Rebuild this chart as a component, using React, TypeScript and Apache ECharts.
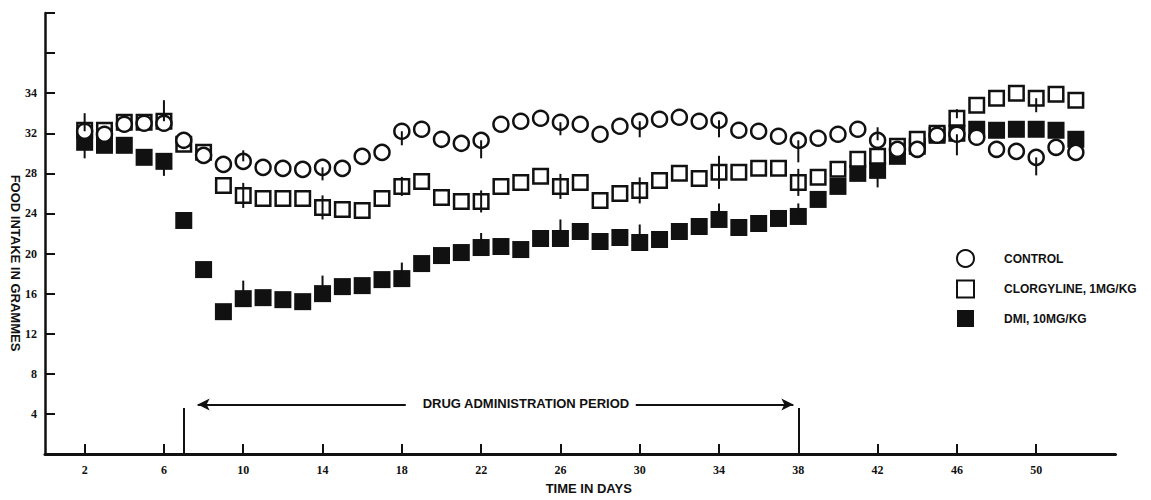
import React, { useEffect, useRef } from 'react';
import * as echarts from 'echarts';

// ---------- data ----------
const days = [2, 3, 4, 5, 6, 7, 8, 9, 10, 11, 12, 13, 14, 15, 16, 17, 18, 19, 20, 21, 22, 23, 24, 25, 26, 27,
  28, 29, 30, 31, 32, 33, 34, 35, 36, 37, 38, 39, 40, 41, 42, 43, 44, 45, 46, 47, 48, 49, 50, 51, 52];

const control = [32.2, 31.9, 32.9, 33.0, 33.0, 31.3, 29.8, 28.9, 29.2, 28.6, 28.5, 28.4, 28.6, 28.5, 29.7, 30.1,
  32.2, 32.4, 31.4, 31.0, 31.3, 32.9, 33.2, 33.5, 33.1, 32.9, 31.9, 32.7, 33.2, 33.4, 33.6, 33.2, 33.3, 32.3,
  32.2, 31.7, 31.3, 31.5, 31.9, 32.4, 31.3, 30.4, 30.4, 31.8, 31.9, 31.6, 30.4, 30.2, 29.6, 30.6, 30.1];

const clorgyline = [32.3, 32.3, 33.1, 33.1, 33.2, 30.9, 30.1, 26.8, 25.8, 25.5, 25.5, 25.5, 24.6, 24.4, 24.3, 25.5,
  26.7, 27.2, 25.6, 25.2, 25.2, 26.7, 27.1, 27.7, 26.7, 27.1, 25.3, 26.0, 26.3, 27.3, 28.0, 27.5, 28.1, 28.1,
  28.5, 28.5, 27.1, 27.6, 28.4, 29.4, 29.7, 30.7, 31.4, 32.0, 33.5, 34.8, 35.5, 36.0, 35.5, 35.9, 35.3];

const dmi = [31.1, 30.8, 30.8, 29.6, 29.2, 23.3, 18.4, 14.2, 15.5, 15.6, 15.4, 15.2, 16.0, 16.7, 16.8, 17.4,
  17.5, 19.0, 19.8, 20.1, 20.6, 20.7, 20.4, 21.5, 21.5, 22.2, 21.2, 21.6, 21.1, 21.4, 22.2, 22.7, 23.4, 22.6,
  23.0, 23.5, 23.7, 25.4, 26.7, 28.0, 28.3, 29.7, 30.7, 31.8, 32.0, 32.4, 32.3, 32.4, 32.4, 32.3, 31.4];

// error bars (drawn at these days), upward / downward extent
const errDays = [2, 6, 10, 14, 18, 22, 26, 30, 34, 38, 42, 46, 50];
const controlErrUp = [1.8, 0, 1.1, 0, 0, 0, 0, 0, 0, 0, 1.3, 0, 0];
const controlErrDown = [0, 0, 0, 1.3, 1.4, 1.8, 1.3, 1.6, 1.7, 2.2, 0, 2.1, 1.8];
const clorgErrUp = [0, 2.1, 1.25, 1.2, 0.95, 1.1, 1.25, 1.3, 1.65, 1.35, 0, 0.9, 0];
const clorgErrDown = [0, 0, 1.25, 1.2, 0.95, 1.1, 1.25, 1.3, 1.65, 1.35, 0, 0, 1.4];
const dmiErrUp = [0, 0, 1.8, 1.8, 1.6, 1.45, 1.9, 1.8, 1.6, 1.3, 0, 0, 0];
const dmiErrDown = [1.6, 1.45, 0, 0, 0, 0, 0, 0, 0, 0, 1.7, 0, 0];

const xTickDays = [2, 6, 10, 14, 18, 22, 26, 30, 34, 38, 42, 46, 50];
const yTickValues = [4, 8, 12, 16, 20, 24, 28, 32, 36, 40, 44];
const yTickLabels = ['4', '8', '12', '16', '20', '24', '28', '32', '34', '', ''];

const seriesNames = ['CONTROL', 'CLORGYLINE, 1MG/KG', 'DMI, 10MG/KG'];
const drugStart = 7;
const drugEnd = 38;
const drugLabel = 'DRUG ADMINISTRATION PERIOD';

export default function App() {
  const ref = useRef<HTMLDivElement>(null);

  useEffect(() => {
    if (!ref.current) return;
    const chart = echarts.init(ref.current, null, { renderer: 'svg' });

    const pts = (vals: number[]) => days.map((d, i) => [d, vals[i]]);
    const errData = (vals: number[], up: number[], dn: number[]) =>
      errDays
        .map((d, i) => [d, vals[days.indexOf(d)], up[i], dn[i]])
        .filter((r) => r[2] > 0 || r[3] > 0);

    const allErr = [
      ...errData(control, controlErrUp, controlErrDown),
      ...errData(clorgyline, clorgErrUp, clorgErrDown),
      ...errData(dmi, dmiErrUp, dmiErrDown),
    ];

    const black = '#111';
    const font = "'Liberation Sans', Arial, sans-serif";
    const serif = "'Liberation Serif', 'Times New Roman', serif";

    chart.setOption({
      animation: false,
      backgroundColor: '#fff',
      grid: { left: 45, right: 35.5, top: 13, bottom: 41.7, containLabel: false },
      xAxis: {
        type: 'value',
        min: 0,
        max: 54,
        name: 'TIME IN DAYS',
        nameLocation: 'middle',
        nameGap: 28,
        nameTextStyle: { color: black, fontFamily: font, fontSize: 13, fontWeight: 'bold', padding: [0, 0, 0, 17] },
        axisLine: { show: true, lineStyle: { color: black, width: 3 } },
        axisTick: { show: true, inside: true, length: 10, lineStyle: { color: black, width: 2 }, customValues: xTickDays },
        axisLabel: {
          color: black, fontFamily: serif, fontWeight: 'bold', fontSize: 12, margin: 10,
          customValues: xTickDays,
        },
        splitLine: { show: false },
      },
      yAxis: {
        type: 'value',
        min: 0,
        max: 44,
        interval: 4,
        axisLine: { show: true, lineStyle: { color: black, width: 2.5 } },
        axisTick: { show: true, inside: true, length: 10, lineStyle: { color: black, width: 2 } },
        axisLabel: {
          color: black, fontFamily: serif, fontWeight: 'bold', fontSize: 12, margin: 8,
          formatter: (v: number) => {
            const i = yTickValues.indexOf(v);
            return i >= 0 ? yTickLabels[i] : '';
          },
        },
        splitLine: { show: false },
      },
      legend: {
        orient: 'vertical',
        left: 951,
        top: 244,
        itemWidth: 17,
        itemHeight: 17,
        itemGap: 11.5,
        data: seriesNames,
        selectedMode: false,
        textStyle: { color: black, fontFamily: font, fontSize: 12, fontWeight: 'bold', padding: [0, 0, 0, 25] },
      },
      graphic: [
        {
          type: 'text',
          x: 15,
          y: 263,
          rotation: -Math.PI / 2,
          style: {
            text: 'FOOD INTAKE IN GRAMMES',
            fill: black,
            font: `bold 13px ${font}`,
            textAlign: 'center',
            textVerticalAlign: 'middle',
          },
        },
      ],
      series: [
        {
          name: seriesNames[2],
          type: 'scatter',
          symbol: 'rect',
          symbolSize: 17,
          itemStyle: { color: black, borderColor: black, borderWidth: 0, opacity: 1 },
          data: pts(dmi),
          z: 2,
          markLine: {
            silent: true,
            symbol: ['none', 'none'],
            label: { show: false },
            lineStyle: { color: black, width: 2, type: 'solid' },
            data: [
              [{ coord: [drugStart, 0] }, { coord: [drugStart, 4.6] }],
              [{ coord: [drugEnd, 0] }, { coord: [drugEnd, 4.6] }],
              [{ coord: [18.2, 4.95], symbol: 'none' }, { coord: [drugStart + 0.7, 4.95], symbol: 'arrow', symbolSize: [9, 12] }],
              [{ coord: [29.8, 4.95], symbol: 'none' }, { coord: [drugEnd - 0.25, 4.95], symbol: 'arrow', symbolSize: [9, 12] }],
            ],
          },
          markPoint: {
            silent: true,
            symbol: 'circle',
            symbolSize: 0,
            data: [
              {
                coord: [24.26, 5.05],
                label: {
                  show: true,
                  position: 'inside',
                  formatter: drugLabel,
                  color: black,
                  fontFamily: font,
                  fontWeight: 'bold',
                  fontSize: 13,
                },
              },
            ],
          },
        },
        {
          name: seriesNames[1],
          type: 'scatter',
          symbol: 'rect',
          symbolSize: 14.5,
          itemStyle: { color: '#fff', borderColor: black, borderWidth: 2.5, opacity: 1 },
          data: pts(clorgyline),
          z: 3,
        },
        {
          name: seriesNames[0],
          type: 'scatter',
          symbol: 'circle',
          symbolSize: 15,
          itemStyle: { color: '#fff', borderColor: black, borderWidth: 2.5, opacity: 1 },
          data: pts(control),
          z: 4,
        },
        {
          type: 'custom',
          silent: true,
          z: 6,
          encode: { x: 0, y: 1 },
          data: allErr,
          renderItem: (_params: any, api: any) => {
            const x = api.value(0);
            const y = api.value(1);
            const up = api.value(2);
            const dn = api.value(3);
            const a = api.coord([x, y + up]);
            const b = api.coord([x, y - dn]);
            return {
              type: 'line',
              shape: { x1: a[0], y1: a[1], x2: b[0], y2: b[1] },
              style: { stroke: black, lineWidth: 2 },
            };
          },
        },
      ],
    });

    return () => chart.dispose();
  }, []);

  return (
    <div
      ref={ref}
      style={{ position: 'absolute', left: 0, top: 0, width: 1151, height: 500, background: '#fff' }}
    />
  );
}
